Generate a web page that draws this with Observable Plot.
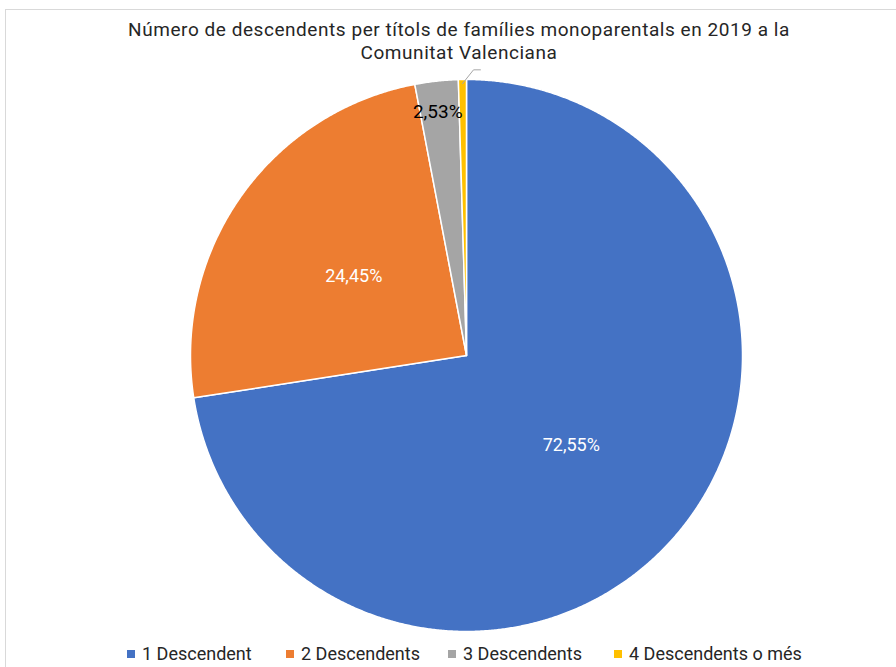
<!DOCTYPE html>
<html>
<head>
<meta charset="utf-8">
<script src="https://cdn.jsdelivr.net/npm/d3@7"></script>
<script src="https://cdn.jsdelivr.net/npm/@observablehq/plot@0.6"></script>
<style>
  html, body { margin: 0; padding: 0; background: #fff; }
  #wrap { position: relative; width: 896px; height: 667px; overflow: hidden; font-family: Roboto, "Liberation Sans", sans-serif; }
  #frame { position: absolute; left: 5px; top: 9px; width: 900px; height: 700px; border: 1px solid #d9d9d9; box-sizing: border-box; }
  #title { position: absolute; left: 0; top: 18px; width: 918px; text-align: center; font-size: 19px; letter-spacing: 0.55px; line-height: 23px; color: #262626; }
  #chart { position: absolute; left: 0; top: 0; }
  #legend { position: absolute; top: 643px; left: 0; width: 896px; height: 24px; font-size: 18px; color: #262626; }
  .li { position: absolute; top: 0; white-space: nowrap; }
  .sw { display: inline-block; width: 8px; height: 8px; margin-right: 7px; vertical-align: 2px; }
</style>
</head>
<body>
<div id="wrap">
  <div id="frame"></div>
  <div id="chart"></div>
  <div id="title">Número de descendents per títols de famílies monoparentals en 2019 a la<br>Comunitat Valenciana</div>
  <div id="legend"></div>
</div>
<script>
const categories = ["1 Descendent", "2 Descendents", "3 Descendents", "4 Descendents o més"];
const values = [72.55, 24.45, 2.53, 0.47];
const labels = ["72,55%", "24,45%", "2,53%", "0,47%"];
const colors = ["#4472C4", "#ED7D31", "#A5A5A5", "#FFC000"];
const labelColors = ["#ffffff", "#ffffff", "#000000", "#000000"];
const labelSizes = [18, 18, 19, 18];
const labelRadius = [0.5, 0.5, 0.89, null];
const legendX = [126, 285, 447, 613];

const data = categories.map((c, i) => ({cat: c, value: values[i], label: labels[i], lc: labelColors[i], ls: labelSizes[i], lr: labelRadius[i]}));
const arcs = d3.pie().sort(null).value(d => d.value)(data);

// polygon points for each slice (angles measured clockwise from top)
const pts = [];
arcs.forEach(a => {
  pts.push({cat: a.data.cat, x: 0, y: 0});
  const n = Math.max(2, Math.ceil((a.endAngle - a.startAngle) / 0.005));
  for (let k = 0; k <= n; k++) {
    const t = a.startAngle + (a.endAngle - a.startAngle) * k / n;
    pts.push({cat: a.data.cat, x: Math.sin(t), y: Math.cos(t)});
  }
});

const lbls = arcs.filter(a => a.data.lr != null).map(a => {
  const m = (a.startAngle + a.endAngle) / 2;
  return {x: Math.sin(m) * a.data.lr, y: Math.cos(m) * a.data.lr, label: a.data.label, lc: a.data.lc, ls: a.data.ls};
});

// leader line for the smallest slice
const last = arcs[arcs.length - 1];
const mid = (last.startAngle + last.endAngle) / 2;
const leader = [
  {x: Math.sin(mid) * 0.985, y: Math.cos(mid) * 0.985},
  {x: Math.sin(mid) * 0.985 + 0.04, y: 1.035},
  {x: Math.sin(mid) * 0.985 + 0.065, y: 1.035}
];

const chart = Plot.plot({
  width: 896,
  height: 667,
  marginLeft: 190,
  marginRight: 154,
  marginTop: 79,
  marginBottom: 36,
  x: {domain: [-1, 1], axis: null},
  y: {domain: [-1, 1], axis: null},
  color: {domain: categories, range: colors},
  style: {background: "transparent", fontFamily: "Roboto, sans-serif"},
  marks: [
    Plot.line(pts, {x: "x", y: "y", z: "cat", fill: "cat", stroke: "#ffffff", strokeWidth: 1.5, curve: "linear-closed"}),
    Plot.line(leader, {x: "x", y: "y", stroke: "#a6a6a6", strokeWidth: 1}),
    Plot.text(lbls.filter(d => d.ls === 18), {x: "x", y: "y", text: "label", fill: d => d.lc, fontSize: 18}),
    Plot.text(lbls.filter(d => d.ls === 19), {x: "x", y: "y", text: "label", fill: d => d.lc, fontSize: 19, dx: -2, dy: 1})
  ]
});
document.getElementById("chart").appendChild(chart);

const legend = document.getElementById("legend");
categories.forEach((c, i) => {
  const el = document.createElement("div");
  el.className = "li";
  el.style.left = (legendX[i] + 1) + "px";
  el.innerHTML = `<span class="sw" style="background:${colors[i]}"></span>${c}`;
  legend.appendChild(el);
});
</script>
</body>
</html>
